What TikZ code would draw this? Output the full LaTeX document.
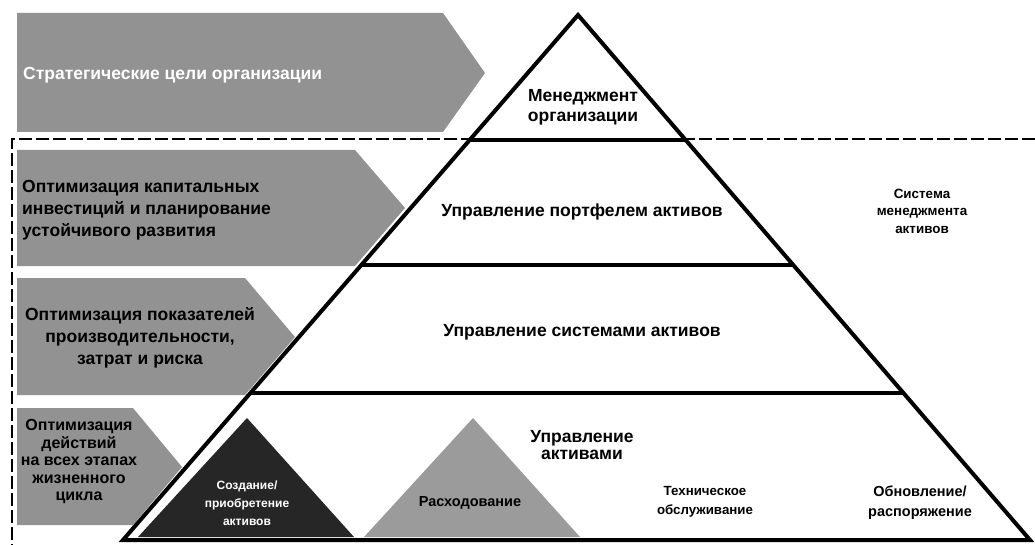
\documentclass[tikz,border=0pt]{standalone}
\usepackage{fontspec}
\setmainfont{Liberation Sans}
\usetikzlibrary{calc}
\definecolor{arrowgray}{RGB}{146,146,146}
\definecolor{darktri}{RGB}{38,38,38}
\definecolor{midtri}{RGB}{155,155,155}
\tikzset{
  arrowshape/.style={fill=arrowgray, draw=none},
  tierline/.style={line width=4pt, line cap=butt},
  bigtxt/.style={font=\bfseries\fontsize{17.5}{22}\selectfont, inner sep=0pt},
  smalltxt/.style={font=\bfseries\fontsize{13.3}{19}\selectfont, inner sep=0pt, align=center},
  dashline/.style={line width=2pt, dash pattern=on 13pt off 4pt},
}
\begin{document}
\begin{tikzpicture}[x=1pt,y=-1pt]
\useasboundingbox (0,0) rectangle (1035,545);
% left arrows
\draw[arrowshape] (17,13) -- (443,13) -- (485,73) -- (443,132) -- (17,132) -- cycle;
\draw[arrowshape] (17,150) -- (355,150) -- (405,208) -- (355,266) -- (17,266) -- cycle;
\draw[arrowshape] (17,278) -- (245,278) -- (295,337) -- (245,395) -- (17,395) -- cycle;
\draw[arrowshape] (17,408) -- (133,408) -- (182,467) -- (133,525) -- (17,525) -- cycle;
% dashed frame
\coordinate (dR) at (1035,139);
\coordinate (dL) at (12,139);
\coordinate (dB) at (12,545);
\draw[dashline] (dR) -- (dL) -- (dB);
% pyramid
\coordinate (apex) at (578,15);
\coordinate (bl) at (123,540);
\coordinate (br) at (1030,540);
\draw[line width=4pt, fill=white, line join=miter] (apex) -- (bl) -- (br) -- cycle;
\coordinate (l1) at ($(apex)!0.2381!(bl)$);
\coordinate (r1) at ($(apex)!0.2381!(br)$);
\coordinate (l2) at ($(apex)!0.4762!(bl)$);
\coordinate (r2) at ($(apex)!0.4762!(br)$);
\coordinate (l3) at ($(apex)!0.72!(bl)$);
\coordinate (r3) at ($(apex)!0.72!(br)$);
\draw[tierline] (l1) -- (r1);
\draw[tierline] (l2) -- (r2);
\draw[tierline] (l3) -- (r3);
% bottom triangles
\draw[fill=darktri, draw=none] (138,537) -- (247,418) -- (354,537) -- cycle;
\draw[fill=midtri, draw=none] (364,537) -- (473,418) -- (580,537) -- cycle;
% arrow texts
\node[bigtxt, text=white, anchor=west] (t1) at (23,75) {Стратегические цели организации};
\node[bigtxt, anchor=west, align=left] (t2) at (22,210) {Оптимизация капитальных\\инвестиций и планирование\\устойчивого развития};
\node[bigtxt, align=center] (t3) at (140,338) {Оптимизация показателей\\производительности,\\затрат и риска};
\node[bigtxt, align=center, font=\bfseries\fontsize{16}{17.5}\selectfont] (t4) at (79,462) {Оптимизация\\действий\\на всех этапах\\жизненного\\цикла};
% pyramid texts
\node[bigtxt, align=center, font=\bfseries\fontsize{17.5}{20}\selectfont] (p1) at (583,107) {Менеджмент\\организации};
\node[bigtxt] (p2) at (582,212) {Управление портфелем активов};
\node[bigtxt] (p3) at (582,332) {Управление системами активов};
\node[bigtxt, align=center, font=\bfseries\fontsize{17.5}{17}\selectfont] (p4) at (582,445) {Управление\\активами};
\node[smalltxt, font=\bfseries\fontsize{13.4}{17.5}\selectfont] (sys) at (922,211) {Система\\менеджмента\\активов};
\node[smalltxt, text=white, font=\bfseries\fontsize{12}{18}\selectfont] (c1) at (247,503) {Создание/\\приобретение\\активов};
\node[smalltxt, font=\bfseries\fontsize{14.5}{19}\selectfont] (c2) at (470,503) {Расходование};
\node[smalltxt] (c3) at (705,502) {Техническое\\обслуживание};
\node[smalltxt, font=\bfseries\fontsize{14.5}{20}\selectfont] (c4) at (920,503) {Обновление/\\распоряжение};
\end{tikzpicture}
\end{document}
